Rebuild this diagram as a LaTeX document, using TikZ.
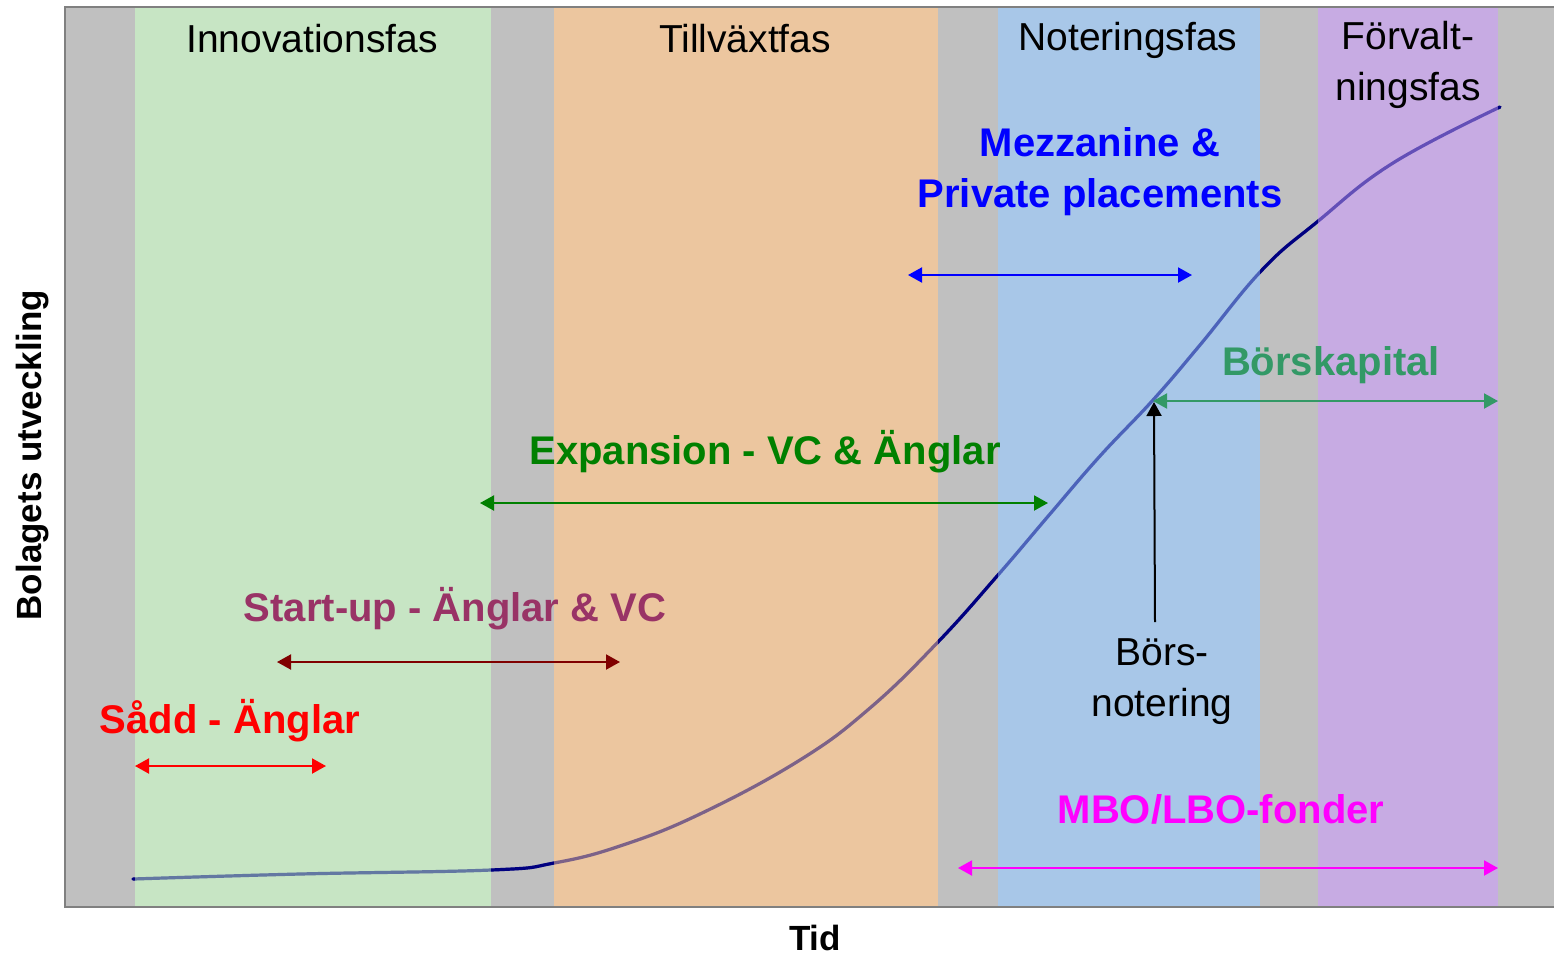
\documentclass[tikz,border=0pt]{standalone}
\usepackage{fontspec}
\setmainfont{Liberation Sans}
\usetikzlibrary{arrows.meta}
\tikzset{>={Triangle[length=7pt,width=7.5pt]}}

\definecolor{bggray}{RGB}{192,192,192}
\definecolor{framegray}{RGB}{128,128,128}
\definecolor{curvenavy}{RGB}{0,0,128}
\definecolor{bandgreen}{RGB}{203,246,198}
\definecolor{bandorange}{RGB}{255,201,146}
\definecolor{bandblue}{RGB}{158,203,249}
\definecolor{bandpurple}{RGB}{203,163,243}
\definecolor{seedred}{RGB}{255,0,0}
\definecolor{startplum}{RGB}{153,51,102}
\definecolor{startdark}{RGB}{128,0,0}
\definecolor{expgreen}{RGB}{0,128,0}
\definecolor{mezzblue}{RGB}{0,0,255}
\definecolor{borsgreen}{RGB}{51,153,102}
\definecolor{mbomagenta}{RGB}{255,0,255}

\begin{document}
\begin{tikzpicture}[x=0.5pt,y=-0.5pt]

%% styles
\tikzstyle{phase}=[font=\fontsize{19.5}{25.5}\selectfont, align=center, inner sep=0pt]

\tikzstyle{fund}=[font=\fontsize{20}{25.5}\selectfont\bfseries, align=center, inner sep=0pt]

\tikzstyle{axislabel}=[font=\fontsize{17.5}{21}\selectfont\bfseries, inner sep=0pt]

\tikzstyle{spanarrow}=[<->, line width=1pt]

\tikzstyle{band}=[fill opacity=0.7]

\def\growth{plot[smooth, tension=0.7] coordinates {
(133,879) (300,874) (491,870) (554,863) (620,846) (700,814) (800,760)
(870,708) (938,642) (998,575) (1050,514) (1100,456) (1153,400)
(1200,345) (1262,270) (1317,222) (1393,163) (1500,107)}}

\useasboundingbox (0,0) rectangle (1554,955);

%% plot area
\fill[bggray] (65,7) rectangle (1554,907);

%% growth curve (under the bands)
\draw[curvenavy, line width=1.6pt, line cap=round] \growth;

%% phase bands
\fill[band, bandgreen] (135,7) rectangle (491,907);
\fill[band, bandorange] (554,7) rectangle (938,907);
\fill[band, bandblue] (998,7) rectangle (1260,907);
\fill[band, bandpurple] (1318,7) rectangle (1498,907);

%% curve seen through the bands
\draw[curvenavy, line width=1.6pt, line cap=round, draw opacity=0.3] \growth;

\draw[framegray, line width=1pt] (1554,7) -- (65,7) -- (65,907) -- (1554,907);

%% phase titles
\node(F1)[phase] at (312,39) {Innovationsfas};
\node(F2)[phase] at (745,39) {Tillväxtfas};
\node(F3)[phase] at (1128,40) {Noteringsfas};
\node(F4)[phase] at (1408,65) {Förvalt-\\ningsfas};

%% financing labels
\node(S1)[fund, text=seedred] at (230,721) {Sådd - Änglar};
\node(S2)[fund, text=startplum] at (455,609) {Start-up - Änglar \& VC};
\node(S3)[fund, text=expgreen] at (765,452) {Expansion - VC \& Änglar};
\node(S4)[fund, text=mezzblue] at (1100,172) {Mezzanine \&\\Private placements};
\node(S5)[fund, text=borsgreen] at (1331,365) {Börskapital};
\node(S6)[fund, text=mbomagenta] at (1221,809) {MBO/LBO-fonder};

\node(IPO)[phase] at (1162,682) {Börs-\\notering};

%% axes
\node(YA)[axislabel, rotate=90] at (33,455) {Bolagets utveckling};
\node(XA)[axislabel] at (815,938) {Tid};

%% arrow ends
\coordinate (A1l) at (135,766);  \coordinate (A1r) at (326,766);
\coordinate (A2l) at (277,662);  \coordinate (A2r) at (620,662);
\coordinate (A3l) at (480,503);  \coordinate (A3r) at (1048,503);
\coordinate (A4l) at (908,275);  \coordinate (A4r) at (1192,275);
\coordinate (A5l) at (1153,401); \coordinate (A5r) at (1498,401);
\coordinate (A6l) at (958,868);  \coordinate (A6r) at (1498,868);
\coordinate (IPOfoot) at (1155,622);
\coordinate (IPOtop) at (1154,402);

%% arrows
\path [draw, spanarrow, seedred] (A1l) -- (A1r);
\path [draw, spanarrow, startdark] (A2l) -- (A2r);
\path [draw, spanarrow, expgreen] (A3l) -- (A3r);
\path [draw, spanarrow, mezzblue] (A4l) -- (A4r);
\path [draw, spanarrow, borsgreen] (A5l) -- (A5r);
\path [draw, spanarrow, mbomagenta] (A6l) -- (A6r);

\path [draw, ->, line width=1pt] (IPOfoot) -- (IPOtop);

\end{tikzpicture}
\end{document}
